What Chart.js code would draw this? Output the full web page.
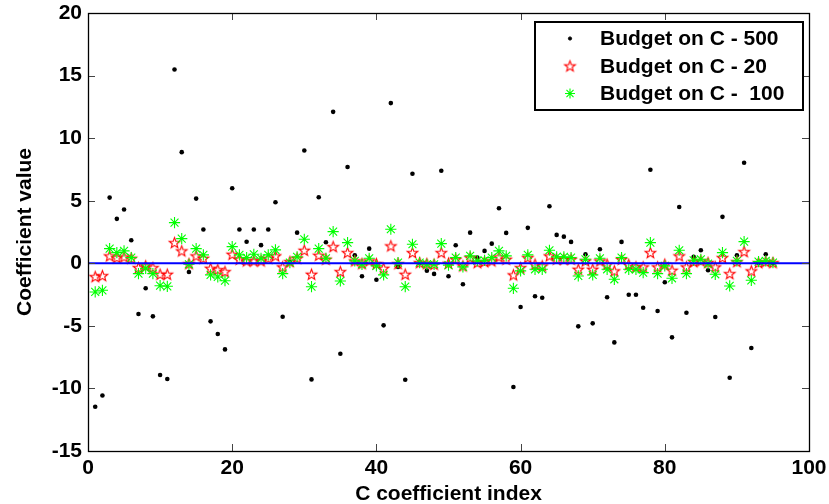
<!DOCTYPE html>
<html><head><meta charset="utf-8">
<script src="https://cdn.jsdelivr.net/npm/chart.js@4.4.0/dist/chart.umd.min.js"></script>
<style>html,body{margin:0;padding:0;background:#fff;overflow:hidden;} #wrap{width:829px;height:504px;position:relative;}</style>
</head><body><div id="wrap"><canvas id="c" width="829" height="504"></canvas></div>
<script>
// ---- data ----
const indices = [1,2,3,4,5,6,7,8,9,10,11,12,13,14,15,16,17,18,19,20,21,22,23,24,25,
  26,27,28,29,30,31,32,33,34,35,36,37,38,39,40,41,42,43,44,45,46,47,48,49,50,
  51,52,53,54,55,56,57,58,59,60,61,62,63,64,65,66,67,68,69,70,71,72,73,74,75,
  76,77,78,79,80,81,82,83,84,85,86,87,88,89,90,91,92,93,94,95];
const budget500 = [-11.47,-10.56,5.25,3.55,4.3,1.84,-4.05,-2.0,-4.24,-8.93,-9.25,15.49,8.88,-0.7,5.17,2.7,-4.64,-5.65,-6.88,6.0,2.7,1.72,2.7,1.45,2.7,
  4.88,-4.27,0.1,2.45,9.01,-9.28,5.28,1.68,12.1,-7.23,7.7,0.64,-1.04,1.17,-1.31,-4.96,12.8,-0.29,-9.31,7.15,0.05,-0.59,-0.85,7.39,-1.04,
  1.44,-1.68,2.45,0.45,0.99,1.57,4.4,2.43,-9.89,-3.49,2.83,-2.64,-2.75,4.56,2.27,2.13,1.71,-5.04,0.72,-4.8,1.12,-2.72,-6.32,1.71,-2.51,
  -2.51,-3.55,7.47,-3.81,-1.52,-5.92,4.5,-3.95,0.51,1.04,-0.56,-4.29,3.71,-9.15,0.64,8.03,-6.77,0.05,0.72,0.0];
const budget20 = [-1.07,-0.99,0.59,0.45,0.51,0.4,-0.35,-0.21,-0.35,-0.88,-0.88,1.65,0.99,-0.03,0.59,0.4,-0.4,-0.51,-0.67,0.72,0.32,0.19,0.19,0.19,0.4,
  0.59,-0.29,0.13,0.4,1.04,-0.88,0.64,0.32,1.33,-0.67,0.85,0.19,-0.03,0.19,-0.03,-0.4,1.39,-0.03,-0.88,0.85,0.05,-0.03,-0.08,0.85,0.0,
  0.32,-0.21,0.45,0.05,0.13,0.19,0.51,0.32,-0.93,-0.35,0.45,-0.08,-0.21,0.59,0.32,0.32,0.32,-0.48,0.19,-0.48,0.19,-0.08,-0.61,0.32,-0.1,
  -0.29,-0.29,0.85,-0.29,-0.08,-0.56,0.59,-0.29,0.13,0.19,0.05,-0.29,0.45,-0.83,0.13,0.93,-0.61,0.05,0.13,0.05];
const budget100 = [-2.29,-2.16,1.17,0.85,0.99,0.45,-0.83,-0.4,-0.83,-1.79,-1.84,3.25,1.97,-0.08,1.17,0.67,-0.93,-1.09,-1.39,1.33,0.67,0.45,0.72,0.4,0.67,
  1.07,-0.83,0.05,0.51,1.92,-1.87,1.17,0.4,2.53,-1.41,1.65,0.19,-0.08,0.4,-0.21,-0.93,2.72,0.05,-1.87,1.52,0.05,-0.08,-0.08,1.57,-0.15,
  0.45,-0.29,0.59,0.19,0.24,0.45,0.99,0.59,-2.0,-0.61,0.67,-0.48,-0.48,1.04,0.51,0.51,0.45,-1.01,0.32,-0.93,0.4,-0.48,-1.28,0.45,-0.48,
  -0.48,-0.75,1.65,-0.83,-0.21,-1.2,1.04,-0.83,0.24,0.32,-0.03,-0.88,0.85,-1.81,0.19,1.73,-1.36,0.13,0.19,0.05];
const zeroLineX = [0, 100];
const zeroLineY = [0, 0];
const xTicks = [0,20,40,60,80,100];
const yTicks = [-15,-10,-5,0,5,10,15,20];
const seriesLabels = ['Budget on C - 500','Budget on C - 20','Budget on C -  100'];
const xTitle = 'C coefficient index';
const yTitle = 'Coefficient value';

// ---- styling ----
const FONT = "'Liberation Sans', Arial, Helvetica, sans-serif";
function makePentagram(color, R, ratio) {
  const size = Math.ceil(2 * R + 3);
  const c = document.createElement('canvas');
  c.width = size; c.height = size;
  const g = c.getContext('2d');
  const cx = size / 2, cy = size / 2 + 0.5, r = R * ratio;
  g.beginPath();
  for (let i = 0; i < 10; i++) {
    const a = -Math.PI / 2 + i * Math.PI / 5;
    const rr = (i % 2) ? r : R;
    g.lineTo(cx + rr * Math.cos(a), cy + rr * Math.sin(a));
  }
  g.closePath();
  g.strokeStyle = color; g.lineWidth = 1.1; g.stroke();
  return c;
}
const starImg = makePentagram('#ff0000', 5.6, 0.42);

const toPts = (xs, ys) => xs.map((x, i) => ({x: x, y: ys[i]}));

const frameAndTicks = {
  id: 'frameAndTicks',
  afterDatasetsDraw(chart) {
    const {ctx, chartArea: a, scales: {x, y}} = chart;
    ctx.save();
    ctx.strokeStyle = '#444'; ctx.lineWidth = 1;
    const tl = 7;
    ctx.beginPath();
    xTicks.forEach(v => {
      const px = Math.round(x.getPixelForValue(v)) + 0.5;
      ctx.moveTo(px, a.bottom); ctx.lineTo(px, a.bottom - tl);
      ctx.moveTo(px, a.top); ctx.lineTo(px, a.top + tl);
    });
    yTicks.forEach(v => {
      const py = Math.round(y.getPixelForValue(v)) + 0.5;
      ctx.moveTo(a.left, py); ctx.lineTo(a.left + tl, py);
      ctx.moveTo(a.right, py); ctx.lineTo(a.right - tl, py);
    });
    ctx.stroke();
    ctx.strokeStyle = '#000'; ctx.lineWidth = 1.3;
    ctx.strokeRect(Math.round(a.left) + 0.5, Math.round(a.top) + 0.5,
      Math.round(a.right - a.left), Math.round(a.bottom - a.top));
    ctx.restore();
  },
  afterDraw(chart) {
    const {ctx, chartArea: a} = chart;
    const w = 268, h = 88;
    const lx = a.right - 6 - w, ly = a.top + 9;
    ctx.save();
    ctx.fillStyle = '#fff';
    ctx.fillRect(lx, ly, w, h);
    ctx.strokeStyle = '#000'; ctx.lineWidth = 2;
    ctx.strokeRect(lx, ly, w, h);
    ctx.font = 'bold 21px ' + FONT;
    ctx.textBaseline = 'middle';
    ctx.textAlign = 'left';
    const rowH = 27.5;
    const ds = chart.data.datasets;
    for (let i = 0; i < 3; i++) {
      const cy = ly + 16.5 + i * rowH;
      const mx = lx + 35;
      const d = ds[i];
      ctx.strokeStyle = d.borderColor;
      ctx.fillStyle = d.backgroundColor;
      ctx.lineWidth = d.pointBorderWidth || 1;
      const r = d.pointStyle === 'circle' ? 1.6 : (d.pointStyle === 'star' ? 5 : d.pointRadius);
      Chart.helpers.drawPoint(ctx, {
        pointStyle: d.pointStyle, radius: r, borderWidth: d.pointBorderWidth || 1, rotation: 0
      }, mx, cy);
      ctx.fillStyle = '#000';
      ctx.fillText(seriesLabels[i], lx + 65, cy + 1);
    }
    ctx.restore();
  }
};

Chart.defaults.font.family = FONT;
new Chart(document.getElementById('c'), {
  type: 'scatter',
  data: {
    datasets: [
      {label: seriesLabels[0], data: toPts(indices, budget500), pointStyle: 'circle', pointRadius: 2.3,
       backgroundColor: '#000000', borderColor: '#000000', pointBorderWidth: 0, order: 4},
      {label: seriesLabels[1], data: toPts(indices, budget20), pointStyle: starImg, pointRadius: 5.6,
       backgroundColor: '#ff0000', borderColor: '#ff0000', pointBorderWidth: 1, order: 3},
      {label: seriesLabels[2], data: toPts(indices, budget100), pointStyle: 'star', pointRadius: 5.6,
       backgroundColor: '#00ff00', borderColor: '#00ff00', pointBorderWidth: 1.1, order: 2},
      {type: 'line', label: 'zero', data: toPts(zeroLineX, zeroLineY), borderColor: '#0000ff', borderWidth: 2,
       pointRadius: 0, showLine: true, fill: false, order: 1}
    ]
  },
  options: {
    responsive: false, animation: false, devicePixelRatio: 1, events: [],
    layout: {padding: {top: 13, right: 20, left: 0, bottom: 0}},
    plugins: {legend: {display: false}, tooltip: {enabled: false}},
    scales: {
      x: {
        type: 'linear', min: 0, max: 100, position: 'bottom',
        afterBuildTicks: s => { s.ticks = xTicks.map(v => ({value: v})); },
        afterFit: s => { s.height = 53; s.paddingLeft = 0; s.paddingRight = 0; },
        grid: {display: false, drawTicks: false},
        border: {display: false},
        ticks: {color: '#000', padding: 6.5, maxRotation: 0, autoSkip: false,
                font: {size: 21, weight: 'bold', lineHeight: 1.0}},
        title: {display: true, text: xTitle, color: '#000', padding: {top: 0, bottom: -2},
                font: {size: 21, weight: 'bold', lineHeight: 1.1}}
      },
      y: {
        type: 'linear', min: -15, max: 20, position: 'left',
        afterBuildTicks: s => { s.ticks = yTicks.map(v => ({value: v})); },
        afterFit: s => { s.width = 88; s.paddingTop = 0; s.paddingBottom = 0; },
        grid: {display: false, drawTicks: false},
        border: {display: false},
        ticks: {color: '#000', padding: 6, autoSkip: false,
                font: {size: 21, weight: 'bold', lineHeight: 1.0}},
        title: {display: true, text: yTitle, color: '#000', padding: {top: 13, bottom: 0},
                font: {size: 21, weight: 'bold', lineHeight: 1.15}}
      }
    }
  },
  plugins: [frameAndTicks]
});
</script>
</body></html>
